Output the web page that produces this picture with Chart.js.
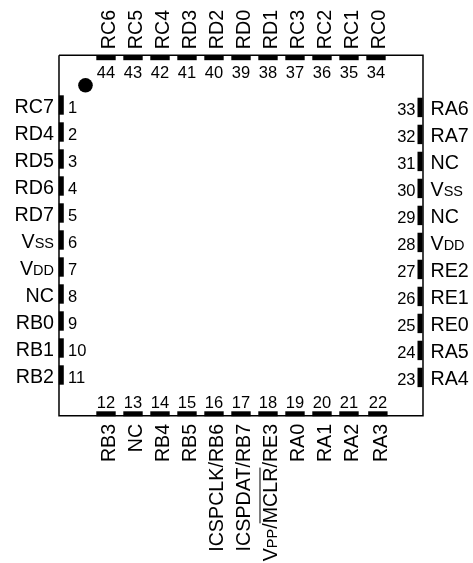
<!DOCTYPE html>
<html>
<head>
<meta charset="utf-8">
<title>44-pin package diagram</title>
<script src="https://cdn.jsdelivr.net/npm/chart.js@4/dist/chart.umd.min.js"></script>
<style>
  html,body{margin:0;padding:0;background:#fff}
  canvas{display:block}
</style>
</head>
<body>
<canvas id="pins" width="473" height="563"></canvas>
<script>
/* Pin data. Positions are in pin pitches from pin 44 (x) and pin 1 (y).
   {..} marks small text, [..] marks an overlined (active low) name */
var leftPins  = [1,2,3,4,5,6,7,8,9,10,11];
var leftNames = ['RC7','RD4','RD5','RD6','RD7','V{SS}','V{DD}','NC','RB0','RB1','RB2'];
var leftSlots = [0,1,2,3,4,5,6,7,8,9,10];

var rightPins  = [33,32,31,30,29,28,27,26,25,24,23];
var rightNames = ['RA6','RA7','NC','V{SS}','NC','V{DD}','RE2','RE1','RE0','RA5','RA4'];
var rightSlots = [0.09,1.09,2.09,3.09,4.09,5.09,6.09,7.09,8.09,9.09,10.09];

var topPins  = [44,43,42,41,40,39,38,37,36,35,34];
var topNames = ['RC6','RC5','RC4','RD3','RD2','RD0','RD1','RC3','RC2','RC1','RC0'];
var topSlots = [0,1,2,3,4,5,6,7,8,9,10];

var bottomPins  = [12,13,14,15,16,17,18,19,20,21,22];
var bottomNames = ['RB3','NC','RB4','RB5','ICSPCLK/RB6','ICSPDAT/RB7','V{PP}/[MCLR]/RE3','RA0','RA1','RA2','RA3'];
var bottomSlots = [0,1,2,3,4,5,6,7,8,9,10.07];

// package outline, pin 1 marker
var outlineX = [-1.741,11.741,11.741,-1.741,-1.741];
var outlineY = [-1.841,-1.841,11.507,11.507,-1.841];
var markerX = [-0.76];
var markerY = [-0.73];

// where each row of pins sits across the pitch direction
var leftEdge = -1.656, rightEdge = 11.63, topEdge = -1.752, bottomEdge = 11.437;

var NAME_SIZE = 19.7, SMALL_SIZE = 14.5, NUM_SIZE = 16.5;
var FONT = '"Liberation Sans", Arial, sans-serif';

function fill(n, v){ return n.map(function(){ return v; }); }

function pinDataset(xs, ys, rotation){
  return {
    data: xs.map(function(x,i){ return {x:x, y:ys[i]}; }),
    showLine:false,
    pointStyle:'line',
    pointRadius:9.7,
    pointBorderWidth:5,
    pointBorderColor:'#000',
    pointRotation:rotation
  };
}

/* ── Text runs: splits a name into normal, small and overlined parts ── */
function parseRuns(text){
  var re = /\{([^}]*)\}|\[([^\]]*)\]|([^{\[]+)/g, runs = [], m;
  while((m = re.exec(text))){
    if(m[1] !== undefined) runs.push({t:m[1], size:SMALL_SIZE});
    else if(m[2] !== undefined) runs.push({t:m[2], size:NAME_SIZE, over:true});
    else runs.push({t:m[3], size:NAME_SIZE});
  }
  return runs;
}

function drawName(ctx, text, x, y, rotate, align){
  var runs = parseRuns(text), total = 0;
  ctx.save();
  ctx.translate(x, y);
  if(rotate) ctx.rotate(-Math.PI/2);
  ctx.textAlign = 'left';
  ctx.textBaseline = 'alphabetic';
  runs.forEach(function(r){
    ctx.font = r.size+'px '+FONT;
    r.w = ctx.measureText(r.t).width;
    total += r.w;
  });
  var cx = align==='right' ? -total : 0;
  runs.forEach(function(r){
    ctx.font = r.size+'px '+FONT;
    ctx.fillText(r.t, cx, 0);
    if(r.over) ctx.fillRect(cx, -17.5, r.w, 1);
    cx += r.w;
  });
  ctx.restore();
}

function drawNum(ctx, n, x, y, align){
  ctx.font = NUM_SIZE+'px '+FONT;
  ctx.textAlign = align;
  ctx.textBaseline = 'alphabetic';
  ctx.fillText(String(n), x, y);
}

var pinLabels = {
  id:'pinLabels',
  afterDatasetsDraw:function(chart){
    var ctx = chart.ctx;
    ctx.save();
    ctx.fillStyle = '#000';
    chart.getDatasetMeta(2).data.forEach(function(p,i){
      drawName(ctx, leftNames[i], p.x-7.3, p.y+8, false, 'right');
      drawNum(ctx, leftPins[i], p.x+6.7, p.y+7.7, 'left');
    });
    chart.getDatasetMeta(3).data.forEach(function(p,i){
      drawName(ctx, rightNames[i], p.x+10.5, p.y+7.5, false, 'left');
      drawNum(ctx, rightPins[i], p.x-4.5, p.y+7.8, 'right');
    });
    chart.getDatasetMeta(4).data.forEach(function(p,i){
      drawName(ctx, topNames[i], p.x+9, p.y-8.5, true, 'left');
      drawNum(ctx, topPins[i], p.x, p.y+20, 'center');
    });
    chart.getDatasetMeta(5).data.forEach(function(p,i){
      drawName(ctx, bottomNames[i], p.x+9, p.y+10, true, 'right');
      drawNum(ctx, bottomPins[i], p.x, p.y-5.8, 'center');
    });
    ctx.restore();
  }
};

new Chart(document.getElementById('pins'), {
  type:'scatter',
  data:{
    datasets:[
      {
        data:outlineX.map(function(x,i){ return {x:x, y:outlineY[i]}; }),
        showLine:true, borderColor:'#000', borderWidth:1.5, pointRadius:0, tension:0
      },
      {
        data:markerX.map(function(x,i){ return {x:x, y:markerY[i]}; }),
        pointRadius:7.3, pointBackgroundColor:'#000', pointBorderWidth:0, showLine:false
      },
      pinDataset(fill(leftSlots,leftEdge), leftSlots, 90),
      pinDataset(fill(rightSlots,rightEdge), rightSlots, 90),
      pinDataset(topSlots, fill(topSlots,topEdge), 0),
      pinDataset(bottomSlots, fill(bottomSlots,bottomEdge), 0)
    ]
  },
  options:{
    responsive:false,
    animation:false,
    layout:{padding:0, autoPadding:false},
    plugins:{legend:{display:false}, tooltip:{enabled:false}},
    scales:{
      x:{type:'linear', display:false, min:-3.926, max:13.593},
      y:{type:'linear', display:false, reverse:true, min:-3.889, max:16.963}
    }
  },
  plugins:[pinLabels]
});
</script>
</body>
</html>
